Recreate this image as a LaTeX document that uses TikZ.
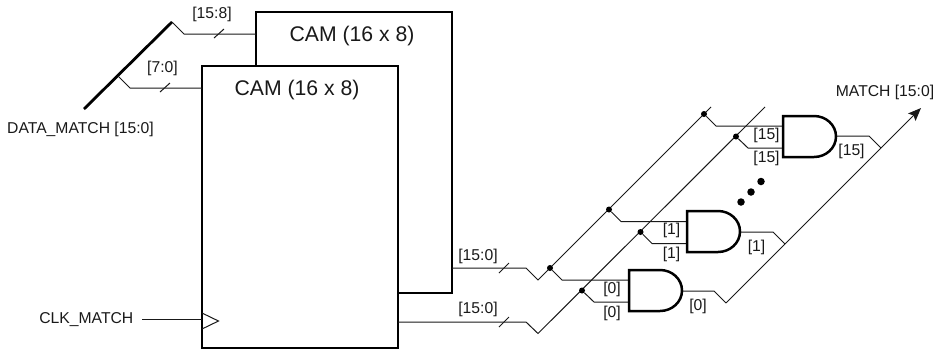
\documentclass[tikz,border=0pt]{standalone}
\usepackage{fontspec}
\setmainfont{Liberation Sans}
\usetikzlibrary{arrows.meta}
\tikzset{
  x=1bp,y=-1bp,
  wire/.style={line width=1bp,line join=miter,black!90},
  thickln/.style={line width=2.8bp,black},
  block/.style={draw=black,line width=2.6bp,fill=white,rectangle,anchor=north west,inner sep=0pt,outer sep=0pt},
  lab/.style={font=\fontsize{15.7bp}{17bp}\selectfont,inner sep=0pt,text=black!90},
  big/.style={font=\fontsize{21.2bp}{24bp}\selectfont,inner sep=0pt,text=black!90},
  jdot/.style={circle,fill=black,inner sep=0pt,minimum size=6bp},
  edot/.style={circle,fill=black,inner sep=0pt,minimum size=7.5bp},
  gatesh/.style={draw=black,line width=2.5bp,fill=white,line join=miter},
}
\newcommand{\andgate}[2]{% left x, top y
  \begin{scope}[shift={(#1,#2)}]
  \draw[gatesh] (0,0) -- (31,0) .. controls (43,0) and (53,9) .. (53,20.5) .. controls (53,32) and (43,41) .. (31,41) -- (0,41) -- cycle;
  \end{scope}
}
\begin{document}
\begin{tikzpicture}
\useasboundingbox (0,0) rectangle (939,350);
% blocks
\node[block,minimum width=196bp,minimum height=281bp] (camb) at (256,12) {};
\node[block,minimum width=196bp,minimum height=282bp] (camf) at (202,66) {};
\node[big] (camblab) at (352,36) {CAM (16 x 8)};
\node[big] (camflab) at (297,90) {CAM (16 x 8)};
% data bus
\coordinate (ds) at (84,109);
\coordinate (de) at (172,22);
\coordinate (dj) at (118,76);
\draw[thickln] (ds) -- (de);
\coordinate (b1) at (184,34);
\coordinate (b2) at (130,88);
\coordinate (cb) at (256,34);
\coordinate (cf) at (202,88);
\draw[wire] (de) -- (b1) -- (cb);
\draw[wire] (dj) -- (b2) -- (cf);
\coordinate (t1a) at (214,38); \coordinate (t1b) at (224,29);
\coordinate (t2a) at (160,92); \coordinate (t2b) at (170,83);
\draw[wire] (t1a) -- (t1b);
\draw[wire] (t2a) -- (t2b);
\node[lab] (l158) at (212,14) {[15:8]};
\node[lab] (l70) at (162.500,68) {[7:0]};
\node[lab,anchor=west] (ldm) at (7,129) {DATA\_MATCH [15:0]};
% clock
\node[lab,anchor=east] (clk) at (133.500,320) {CLK\_MATCH};
\coordinate (ck) at (202,319.500);
\draw[wire] (142,319.500) -- (ck);
\draw[wire] (202,313) -- (218.500,321) -- (202,329);
% output buses from CAMs
\coordinate (o1) at (452,268);
\coordinate (o2) at (398,322);
\coordinate (z1) at (526,268);
\coordinate (z2) at (526,322);
\coordinate (v1) at (538,280);
\coordinate (v2) at (538,333.500);
\coordinate (top1) at (711,107);
\coordinate (top2) at (765,107);
\draw[wire] (o1) -- (z1) -- (v1) -- (top1);
\draw[wire] (o2) -- (z2) -- (v2) -- (top2);
\draw[wire] (499,273) -- (509,263);
\draw[wire] (499,327) -- (509,317);
\node[lab] (l1) at (478,256) {[15:0]};
\node[lab] (l2) at (478,309) {[15:0]};
% junctions
\node[jdot] (a0) at (550,268) {};
\node[jdot] (a1) at (609,209.500) {};
\node[jdot] (a15) at (704,114) {};
\node[jdot] (c0) at (582,290.500) {};
\node[jdot] (c1) at (640.500,232) {};
\node[jdot] (c15) at (736,136.500) {};
% gate inputs
\draw[wire] (a0) -- (562,280) -- (629,280);
\draw[wire] (c0) -- (594,302) -- (629,302);
\draw[wire] (a1) -- (621,221.500) -- (687,221.500);
\draw[wire] (c1) -- (652,243.500) -- (687,243.500);
\draw[wire] (a15) -- (716,126) -- (783,126);
\draw[wire] (c15) -- (748,148) -- (783,148);
% output bus
\coordinate (ms) at (726,303);
\coordinate (mt) at (921,108);
\draw[wire,-{Stealth[length=13bp,width=10.5bp,inset=2.5bp]}] (ms) -- (mt);
\draw[wire] (682,291) -- (714,291) -- (ms);
\draw[wire] (741,232) -- (773,232) -- (785,244);
\draw[wire] (835,136) -- (869,136) -- (881,148);
% gates
\andgate{629}{270}
\andgate{687}{211}
\andgate{783}{116}
% labels
\node[lab] (i0a) at (612,289) {[0]};
\node[lab] (i0b) at (612,313) {[0]};
\node[lab] (i1a) at (671.500,230) {[1]};
\node[lab] (i1b) at (671.500,254) {[1]};
\node[lab] (i15a) at (766.500,135) {[15]};
\node[lab] (i15b) at (766.500,158) {[15]};
\node[lab] (o0) at (698,306.500) {[0]};
\node[lab] (o1l) at (756.500,247.500) {[1]};
\node[lab] (o15) at (851.500,151.500) {[15]};
\node[lab] (lm) at (885,92) {MATCH [15:0]};
% ellipsis
\node[edot] (e1) at (741,202) {};
\node[edot] (e2) at (751,192) {};
\node[edot] (e3) at (761,181.500) {};
\end{tikzpicture}
\end{document}
